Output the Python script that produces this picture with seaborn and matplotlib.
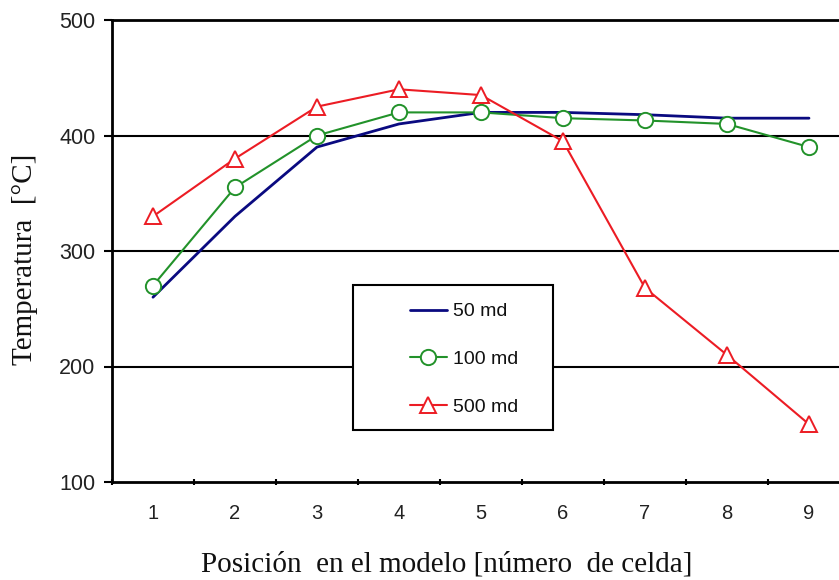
import matplotlib
matplotlib.use("Agg")
import matplotlib.pyplot as plt
from matplotlib.patches import Rectangle
import seaborn as sns
import pandas as pd
import numpy as np

cells = [1, 2, 3, 4, 5, 6, 7, 8, 9]
md50 = [260, 330, 390, 410, 420, 420, 418, 415, 415]
md100 = [270, 355, 400, 420, 420, 415, 413, 410, 390]
md500 = [330, 380, 425, 440, 435, 395, 268, 210, 150]
series_names = ["50 md", "100 md", "500 md"]
yticks = [100, 200, 300, 400, 500]

sns.set_theme(style="white")
plt.rcParams['font.family'] = ['Liberation Sans', 'DejaVu Sans']

fig = plt.figure(figsize=(8.39, 5.80), dpi=100)
W, H = 839, 580
AX_L, AX_R, AX_T, AX_B = 112, 850, 20, 482
ax = fig.add_axes([AX_L / W, 1 - AX_B / H, (AX_R - AX_L) / W, (AX_B - AX_T) / H])

df = pd.DataFrame({"cell": cells * 3,
                   "temp": md50 + md100 + md500,
                   "serie": [series_names[0]] * 9 + [series_names[1]] * 9 + [series_names[2]] * 9})

colors = {"50 md": "#0a0a80", "100 md": "#22922a", "500 md": "#ec1c24"}
markers = {"50 md": None, "100 md": "o", "500 md": "^"}

for name in series_names:
    sub = df[df["serie"] == name]
    sns.lineplot(data=sub, x="cell", y="temp", ax=ax, color=colors[name],
                 marker=markers[name], markersize=11,
                 markerfacecolor="white", markeredgecolor=colors[name],
                 markeredgewidth=1.4, linewidth=1.5 if name != "50 md" else 2.0,
                 label=name, legend=False)

ax.set_xlim(0.5, 9.5)
ax.set_ylim(100, 500)
ax.set_yticks(yticks)
ax.set_yticklabels([str(v) for v in yticks])
ax.set_xticks(cells)
ax.set_xticklabels([str(c) for c in cells])
ax.set_xticks(np.arange(0.5, 10, 1.0), minor=True)
ax.tick_params(axis="x", which="major", length=0, pad=16, labelsize=14.5)
ax.tick_params(axis="x", which="minor", length=5, width=1.5, color="black", direction="inout", bottom=True)
ax.tick_params(axis="y", which="major", length=6, width=1.5, color="black", direction="out", left=True, pad=6, labelsize=15.5)
for lbl in ax.get_xticklabels() + ax.get_yticklabels():
    lbl.set_color("#222222")

for v in [200, 300, 400]:
    ax.axhline(v, color="black", linewidth=1.5, zorder=0.5)

for s in ["left", "bottom", "top"]:
    ax.spines[s].set_visible(True)
    ax.spines[s].set_color("black")
    ax.spines[s].set_linewidth(2.0)
ax.spines["right"].set_visible(False)

ax.set_xlabel("Posición  en el modelo [número  de celda]", family=["Liberation Serif"], fontsize=21, color="#111111")
ax.set_ylabel("Temperatura  [°C]", family=["Liberation Serif"], fontsize=21, color="#111111")

def ax_xy(px, py):
    return ((px - AX_L) / (AX_R - AX_L), 1 - (py - AX_T) / (AX_B - AX_T))

ax.xaxis.set_label_coords(*ax_xy(447, 551))
ax.yaxis.set_label_coords(*ax_xy(38, 259))

# legend frame
x0, y0 = ax_xy(353, 430)
x1, y1 = ax_xy(553, 285)
ax.add_patch(Rectangle((x0, y0), x1 - x0, y1 - y0, transform=ax.transAxes,
                       facecolor="white", edgecolor="black", linewidth=1.5, zorder=4))

handles, labels = ax.get_legend_handles_labels()
lx, ly = ax_xy(402, 295)
leg = ax.legend(handles, labels, loc="upper left", bbox_to_anchor=(lx, ly),
                frameon=False, fontsize=14,
                handlelength=1.9, labelspacing=1.55, borderpad=0.4, borderaxespad=0,
                handletextpad=0.3)
leg.set_zorder(5)
for t in leg.get_texts():
    t.set_color("#111111")

fig.savefig("out.png", dpi=100)
